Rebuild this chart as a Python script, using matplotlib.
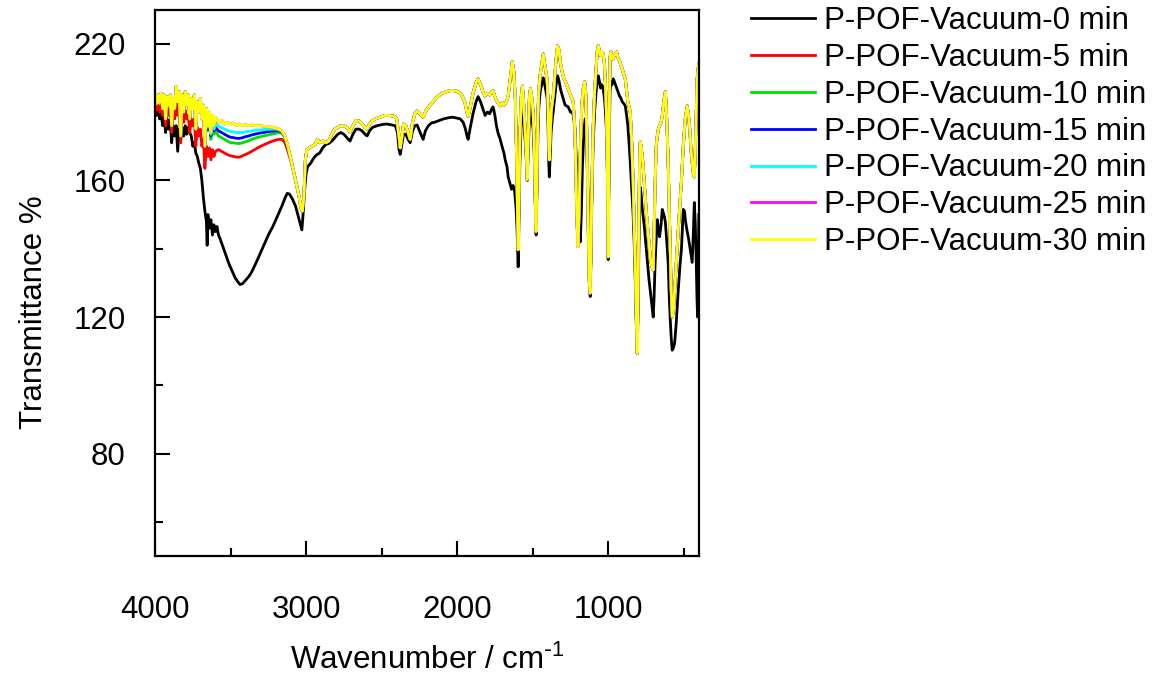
import numpy as np
import matplotlib
matplotlib.use("Agg")
import matplotlib.pyplot as plt
from matplotlib.ticker import FixedLocator

plt.rcParams['font.family'] = ['Liberation Sans', 'DejaVu Sans']
plt.rcParams['mathtext.default'] = 'regular'

# ---- 0 min (black), own wavenumber grid ----
wn0 = [4000, 3990, 3980, 3970, 3960, 3950, 3940, 3930, 3920, 3910, 3900, 3890, 3880, 3870, 3860,
       3850, 3840, 3830, 3820, 3810, 3800, 3790, 3780, 3770, 3760, 3750, 3740, 3730, 3720, 3710,
       3700, 3690, 3680, 3670, 3660, 3655, 3650, 3640, 3630, 3620, 3610, 3600, 3590, 3580, 3570,
       3550, 3530, 3510, 3490, 3470, 3450, 3437, 3420, 3400, 3380, 3360, 3330, 3300, 3280, 3250,
       3220, 3190, 3160, 3140, 3125, 3110, 3090, 3070, 3055, 3040, 3028, 3020, 3010, 3000, 2990,
       2970, 2950, 2930, 2910, 2890, 2870, 2850, 2830, 2810, 2790, 2770, 2750, 2730, 2709, 2690,
       2670, 2650, 2630, 2610, 2596, 2580, 2560, 2530, 2500, 2470, 2440, 2410, 2395, 2385, 2377,
       2368, 2355, 2340, 2325, 2311, 2295, 2280, 2265, 2245, 2225, 2210, 2190, 2170, 2150, 2120,
       2090, 2060, 2030, 2000, 1980, 1960, 1945, 1935, 1927, 1915, 1895, 1875, 1861, 1845, 1830,
       1815, 1800, 1785, 1770, 1762, 1750, 1740, 1730, 1715, 1700, 1690, 1682, 1670, 1662, 1650,
       1640, 1630, 1620, 1610, 1603, 1596, 1592, 1585, 1575, 1568, 1560, 1550, 1542, 1536, 1530,
       1522, 1515, 1505, 1497, 1490, 1485, 1480, 1477, 1472, 1466, 1460, 1450, 1440, 1430, 1420,
       1410, 1404, 1398, 1394, 1390, 1385, 1378, 1370, 1364, 1355, 1345, 1335, 1325, 1315, 1305,
       1295, 1285, 1275, 1265, 1250, 1240, 1230, 1220, 1210, 1200, 1192, 1185, 1178, 1170, 1160,
       1152, 1145, 1138, 1130, 1124, 1119, 1114, 1108, 1100, 1090, 1080, 1072, 1066, 1058, 1050,
       1042, 1033, 1025, 1018, 1012, 1007, 1003, 1000, 997, 993, 988, 982, 975, 967, 960,
       952, 944, 936, 925, 915, 907, 897, 887, 878, 870, 862, 854, 845, 835, 828,
       821, 814, 808, 803, 797, 792, 788, 782, 775, 770, 762, 755, 748, 740, 730,
       722, 712, 702, 696, 690, 682, 675, 668, 660, 650, 642, 632, 622, 612, 603,
       596, 590, 583, 576, 568, 560, 550, 536, 525, 515, 503, 495, 488, 477, 468,
       460, 452, 444, 436, 430, 424, 418, 412, 408, 404, 400]
t0 = [180.5, 179, 181, 178, 180, 176, 179, 174, 178, 175, 177.5, 171, 176, 173, 176,
      168.5, 175, 172, 175.5, 173, 176, 173.5, 175.5, 174, 173, 170, 171, 168, 167, 165,
      163.5, 160, 155, 151, 148, 141, 150, 146, 148.5, 144, 147, 145, 146.5, 144, 143,
      140.5, 138, 135.5, 133.5, 131.5, 130.2, 129.5, 129.8, 130.8, 131.8, 133.2, 136, 139, 141, 144,
      146.5, 149.5, 152.5, 154.8, 156.2, 156, 154.5, 152.5, 150, 147.5, 145.5, 150, 157, 162, 164,
      165, 166.5, 167.5, 168, 169.5, 170.5, 170.8, 171.5, 172.5, 173.5, 174, 173.5, 172.5, 171.5, 173.5,
      175, 175, 174.5, 173.5, 173, 174.5, 175.5, 176, 176.3, 176.5, 176.3, 176, 174, 169, 167.6,
      170, 173.5, 173.5, 172, 171, 174.5, 176, 176.2, 174, 172, 174.5, 176, 176.8, 177, 177.5,
      178, 178.3, 178.5, 178.2, 178, 177, 175, 173, 172, 175, 179.5, 183, 184.5, 183, 181,
      179, 180, 179.5, 181, 181.5, 179, 176, 174, 172, 169.5, 168, 166, 164, 161, 159,
      157.4, 158.5, 157, 152, 145, 134.7, 145, 165, 178, 181, 178, 172, 166, 160, 168,
      178, 181, 178, 175, 168, 158, 148, 144, 156, 172, 181, 186, 188, 190, 188,
      185.5, 184, 176, 166, 161, 166, 174, 178, 180, 184, 188, 190.6, 189, 186.5, 185,
      183.5, 182, 181.8, 181.5, 180, 180, 179, 175, 165, 155, 146, 142, 150, 165, 175,
      178, 174, 165, 148, 132, 126, 138, 155, 170, 180, 186, 189, 190.6, 189, 187,
      188, 186.8, 184, 180, 175, 168, 150, 136.8, 152, 172, 186, 189, 188, 189.7, 189,
      188, 187, 186, 184.7, 184, 183, 182.5, 181.8, 179, 176, 171, 165.3, 158, 150, 142,
      131, 118, 109.4, 120, 140, 152, 158, 156, 152, 150, 147, 143.5, 140, 136, 131,
      128, 124, 120, 126, 135, 143, 148.5, 146, 143.5, 147, 151.5, 150, 148, 142, 135.9,
      126, 120, 114, 110.3, 111, 112.5, 118, 128, 135, 140, 151.5, 151, 148, 145, 143,
      140.6, 138, 136, 145, 153.5, 148, 138, 125, 120, 135, 150]

# ---- 30 min (yellow), shared grid for the vacuum series ----
wn = [4000, 3990, 3980, 3970, 3960, 3950, 3940, 3930, 3920, 3910, 3900, 3890, 3880, 3870, 3860,
      3850, 3840, 3830, 3820, 3810, 3800, 3790, 3780, 3770, 3760, 3750, 3740, 3730, 3720, 3710,
      3700, 3690, 3680, 3670, 3660, 3650, 3640, 3630, 3620, 3610, 3600,
      3580, 3560, 3540, 3520, 3500, 3480, 3460, 3440, 3420, 3400, 3380, 3360, 3340, 3320, 3300,
      3280, 3260, 3240, 3220, 3200, 3180, 3160, 3140, 3120, 3100,
      3080, 3060, 3045, 3035, 3025, 3015, 3005, 2995, 2980, 2960, 2940, 2925, 2910, 2890, 2870,
      2850, 2830, 2810, 2790, 2770, 2750, 2730, 2710, 2690, 2670, 2650, 2630, 2610, 2595, 2580,
      2560, 2540, 2510, 2480, 2450, 2420, 2400, 2385, 2377, 2368, 2355, 2340, 2325, 2311, 2295,
      2280, 2265, 2245, 2225, 2205, 2180, 2160, 2130, 2100, 2070, 2040, 2010, 1990, 1970, 1950,
      1935, 1927, 1915, 1895, 1875, 1861, 1845, 1830, 1815, 1800, 1785, 1770, 1762, 1750, 1735,
      1715, 1700, 1690, 1682, 1670, 1662, 1648, 1635, 1625, 1615, 1608, 1600, 1596, 1592, 1585,
      1575, 1568, 1560, 1550, 1542, 1536, 1530, 1522, 1515, 1505, 1497, 1490, 1485, 1480, 1477,
      1472, 1466, 1460, 1450, 1440, 1430, 1420, 1410, 1404, 1398, 1394, 1390, 1385, 1378, 1370,
      1364, 1355, 1345, 1335, 1325, 1315, 1305, 1295, 1285, 1275, 1265, 1250, 1240, 1232, 1222,
      1215, 1208, 1200, 1193, 1185, 1175, 1165, 1155, 1148, 1142, 1136, 1130, 1125, 1119, 1114,
      1108, 1100, 1090, 1080, 1072, 1066, 1058, 1050, 1042, 1033, 1025, 1018, 1012, 1007, 1003,
      1000, 997, 993, 988, 982, 975, 967, 960, 952, 944, 936, 925, 915, 907, 897,
      887, 878, 870, 862, 854, 845, 835, 828, 821, 814, 808, 803, 797, 792, 788,
      782, 775, 770, 762, 755, 748, 740, 730, 722, 712, 702, 696, 690, 682, 675,
      668, 660, 650, 642, 632, 622, 616, 610, 603, 596, 590, 583, 576, 568, 560,
      550, 536, 525, 515, 503, 490, 477, 468, 460, 452, 444, 436, 430, 424, 418,
      411, 404, 400]
t30 = [184.5, 182.5, 185, 183, 185.5, 181, 185, 178, 184.5, 182, 185, 176, 184, 181, 187.5,
       183, 186, 173, 185, 180, 186, 182, 185, 178, 184, 181, 185, 175, 183, 180,
       184, 178, 182, 170, 181, 176, 180, 174, 179, 176, 178.5,
       177, 177.5, 176.5, 177, 176.5, 176.8, 176, 176.5, 176, 176.3, 176, 176.2, 176, 176, 176,
       175.8, 175.8, 175.6, 175.5, 175.3, 175, 174.5, 173, 170, 166,
       162, 158, 155, 152, 151, 155, 166, 169, 169.5, 170, 170.5, 172, 171, 171.5, 171,
       171.5, 173.5, 175, 175.5, 176, 176, 175.5, 174.2, 176, 177.5, 177.4, 176.5, 175.5, 175, 176.5,
       177.5, 178, 178.5, 179, 179, 178.8, 178, 173, 169.5, 172, 176.5, 176, 174, 172, 177,
       179.5, 180.3, 179.5, 178.5, 180.5, 182, 183, 184.5, 185.5, 186, 186.3, 186.2, 185.8, 185, 183,
       180, 178.8, 181, 185.5, 188.5, 189.7, 188, 186, 184.7, 185.5, 185, 186, 186.2, 184.5, 183,
       181.8, 182.8, 182, 182.4, 183.5, 184.7, 190, 194.7, 192, 184, 170, 150, 139.7, 150, 172,
       185, 187.6, 183, 175, 168, 160.3, 172, 184, 186.8, 184, 180, 172, 160, 148, 145,
       160, 178, 186, 191, 194, 197, 194, 191, 189.7, 182, 172, 166, 172, 180, 183,
       184.7, 190, 195.5, 199.4, 198, 194, 191.8, 190, 189, 188, 186.8, 185, 184, 183.2, 176,
       165, 150, 140.6, 150, 168, 182, 187, 188.8, 185, 175, 158, 140, 130, 127, 140,
       158, 175, 186, 193, 198, 199.4, 198, 196.5, 197.5, 197, 194, 188, 180, 170, 150,
       137.6, 155, 180, 196, 197.6, 195.5, 195.6, 196.5, 197, 197.6, 196, 195, 193.5, 192.6, 191,
       189.7, 186, 183, 181.5, 180, 172, 160, 148, 135.9, 120, 109.4, 125, 150, 165, 171.2,
       170, 167, 165, 160, 155.3, 151, 147, 142, 137.6, 135, 133.8, 145, 158, 170, 173,
       175, 176, 177, 178.8, 183, 185.9, 182, 175, 165.3, 152, 140, 128, 120, 122, 128,
       136, 145.6, 153, 160, 170, 178, 181.8, 179, 175, 169, 165.3, 162, 161, 168, 178,
       189.7, 193, 194]

# ---- 5 min (red): own values from 4000 to 3100, then overlaps 30 min ----
t5_hi = [181.5, 180.5, 182, 180, 182, 179, 181.5, 176, 181, 179, 181.5, 174, 180.5, 178, 183,
         179, 181, 171, 180, 177, 180.5, 178, 179, 174, 178, 176, 178, 170, 175.5, 173,
         175, 170, 172, 163.5, 170, 167, 169.5, 166, 169, 167, 168.5,
         169, 168.5, 168, 167.5, 167.2, 167, 166.8, 166.8, 167.2, 167.6, 168, 168.5, 169, 169.5, 170,
         170.4, 170.8, 171.2, 171.5, 171.8, 172, 172, 171, 168.5, 165.5]

# ---- 10 / 15 / 20 min: own values from 3650 to 3100 ----
t10_mid = [174.5, 178, 172, 176.5, 173.5, 174.5,
           173, 172.5, 172, 171.5, 171, 171, 170.8, 170.8, 171, 171.3, 171.6, 172, 172.3, 172.6, 172.8,
           173, 173.2, 173.4, 173.6, 173.8, 174, 173.8, 172.5, 169.5, 166]
t15_mid = [175, 179, 173, 177.5, 174.5, 175.5,
           174.5, 174, 173.5, 173, 172.6, 172.5, 172.3, 172.3, 172.5, 172.8, 173, 173.3, 173.5, 173.7, 173.9,
           174, 174.2, 174.3, 174.4, 174.5, 174.5, 174.1, 172.8, 169.8, 166]
t20_mid = [175.5, 179.5, 173.5, 178, 175, 177,
           175.8, 175.5, 175, 174.6, 174.3, 174.2, 174, 174, 174, 174.2, 174.3, 174.5, 174.6, 174.7, 174.8,
           174.9, 175, 175, 175, 175, 174.8, 174.3, 172.9, 169.9, 166]

labels = ['P-POF-Vacuum-0 min', 'P-POF-Vacuum-5 min', 'P-POF-Vacuum-10 min',
          'P-POF-Vacuum-15 min', 'P-POF-Vacuum-20 min', 'P-POF-Vacuum-25 min',
          'P-POF-Vacuum-30 min']
colors = ['#000000', '#ff0000', '#00dd00', '#0000ff', '#00ffff', '#ff00ff', '#ffff00']

wn = np.array(wn)
t30 = np.array(t30)
i_hi = len(t5_hi)
i0 = list(wn).index(3650)
i1 = i0 + len(t10_mid)
t5 = np.concatenate([t5_hi, t30[i_hi:]])
t10 = np.concatenate([t30[:i0], t10_mid, t30[i1:]])
t15 = np.concatenate([t30[:i0], t15_mid, t30[i1:]])
t20 = np.concatenate([t30[:i0], t20_mid, t30[i1:]])
t25 = t30  # 25 min lies under 30 min

series = [(wn0, t0), (wn, t5), (wn, t10), (wn, t15), (wn, t20), (wn, t25), (wn, t30)]

fig = plt.figure(figsize=(11.57, 6.80), dpi=100)
ax = fig.add_axes([0.134, 0.182, 0.470, 0.804])

for (x, y), c, lab in zip(series, colors, labels):
    ax.plot(x, y, color=c, lw=2.0, label=lab)

ax.set_xlim(4000, 400)
ax.set_ylim(50, 210)
ax.xaxis.set_major_locator(FixedLocator([4000, 3000, 2000, 1000]))
ax.xaxis.set_minor_locator(FixedLocator([3500, 2500, 1500, 500]))
ax.yaxis.set_major_locator(FixedLocator([80, 120, 160, 200]))
ax.yaxis.set_minor_locator(FixedLocator([60, 100, 140, 180]))
ax.set_yticklabels(['80', '120', '160', '220'])

ax.tick_params(which='both', direction='in', width=1.5, labelsize=22.5)
ax.tick_params(axis='x', which='major', length=11, pad=28)
ax.tick_params(axis='y', which='major', length=11, pad=21)
ax.tick_params(which='minor', length=5.5)
ax.tick_params(top=False, right=False)
for s in ax.spines.values():
    s.set_linewidth(1.6)

ax.set_xlabel(r'Wavenumber / cm$^{\text{-}1}$', fontsize=22.5, labelpad=14)
ax.set_ylabel('Transmittance %', fontsize=22.5)
ax.yaxis.set_label_coords(-0.195, 0.4465)

ax.legend(loc='upper left', bbox_to_anchor=(751 / 1157, 1 - 6 / 680),
          bbox_transform=fig.transFigure, frameon=False, fontsize=22.5,
          handlelength=2.05, handletextpad=0.3, labelspacing=0.22,
          borderpad=0, borderaxespad=0)

fig.savefig('out.png', dpi=100)
